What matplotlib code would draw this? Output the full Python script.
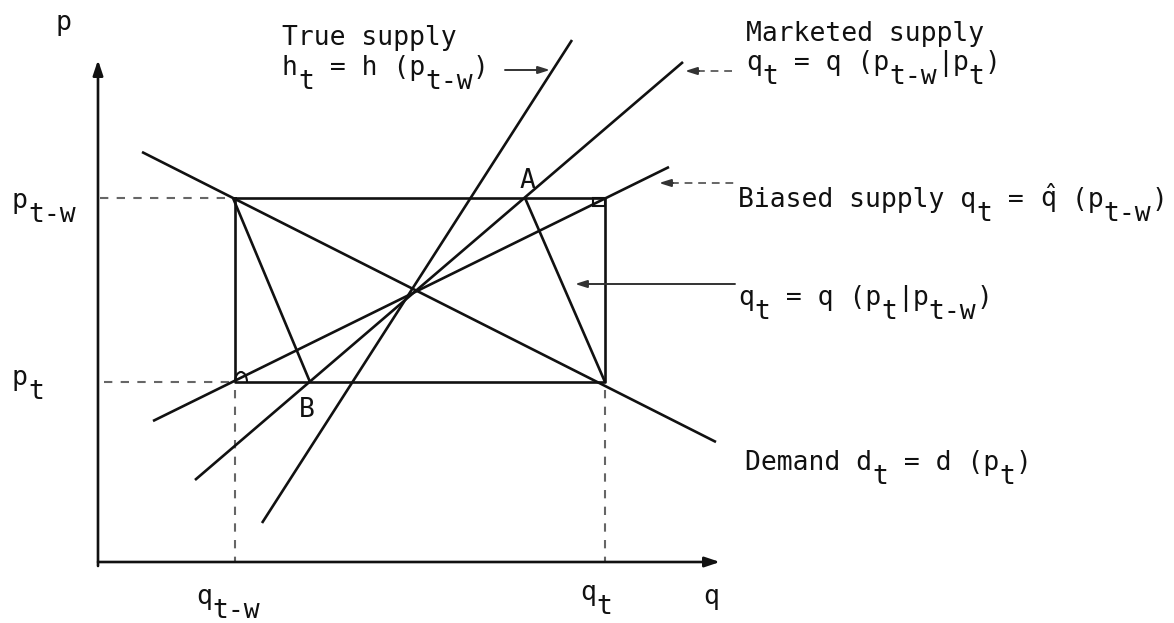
import matplotlib
matplotlib.use("Agg")
import matplotlib.pyplot as plt
from matplotlib.patches import Arc, Rectangle

plt.rcParams["mathtext.fontset"] = "custom"
plt.rcParams["mathtext.rm"] = "DejaVu Sans Mono"
plt.rcParams["mathtext.it"] = "DejaVu Sans Mono"

# ---- diagram data (diagram coordinates, y grows downward) ----
q_positions = {"q_tw": 235, "q_t": 605}
p_positions = {"p_tw": 198, "p_t": 382}

demand_x = [142, 716]
demand_y = [152, 442]
true_supply_x = [262, 572]
true_supply_y = [523, 40]
marketed_x = [195, 683]
marketed_y = [480, 62]
biased_x = [153, 669]
biased_y = [421, 167]
cond_left_x = [233, 310]      # corner -> B
cond_left_y = [198, 382]
cond_right_x = [525, 605]     # A -> corner
cond_right_y = [198, 382]

axis_origin = (98, 564)
y_axis_top = 60
x_axis_right = 720

FS = 19
FONT = "DejaVu Sans Mono"
CW = 0.602 * FS * 100 / 72   # monospace advance in px
SUB = 14                      # subscript drop in px

fig = plt.figure(figsize=(11.74, 6.23), dpi=100)
ax = fig.add_axes([0, 0, 1, 1])
ax.set_xlim(0, 1174)
ax.set_ylim(623, 0)
ax.axis("off")

LW = 1.9
K = "#111111"
G = "#666666"

# axes with arrows
ax.annotate("", xy=(axis_origin[0], y_axis_top), xytext=(axis_origin[0], axis_origin[1] + 2),
            arrowprops=dict(arrowstyle="-|>,head_length=0.9,head_width=0.3", lw=LW, color=K, shrinkA=0, shrinkB=0))
ax.annotate("", xy=(x_axis_right, axis_origin[1] - 2), xytext=(axis_origin[0], axis_origin[1] - 2),
            arrowprops=dict(arrowstyle="-|>,head_length=0.9,head_width=0.3", lw=LW, color=K, shrinkA=0, shrinkB=0))

x0 = axis_origin[0]
yb = axis_origin[1] - 2
qtw, qt = q_positions["q_tw"], q_positions["q_t"]
ptw, pt = p_positions["p_tw"], p_positions["p_t"]

# dashed guides
dash = dict(color=G, lw=1.5, ls=(0, (4, 4)))
ax.plot([x0 + 2, qtw - 2], [ptw, ptw], **dash)
ax.plot([x0 + 6, qtw - 2], [pt, pt], **dash)
ax.plot([qtw, qtw], [pt + 8, yb], **dash)
ax.plot([qt, qt], [pt + 8, yb], **dash)

# rectangle
ax.plot([qtw, qt, qt, qtw, qtw], [ptw, ptw, pt, pt, ptw], color=K, lw=LW)

# lines
for xs, ys in [(demand_x, demand_y), (true_supply_x, true_supply_y),
               (marketed_x, marketed_y), (biased_x, biased_y),
               (cond_left_x, cond_left_y), (cond_right_x, cond_right_y)]:
    ax.plot(xs, ys, color=K, lw=LW, solid_capstyle="butt")

# small marks
ax.add_patch(Rectangle((qt - 12, ptw), 12, 8, fill=False, ec=K, lw=1.5))
ax.add_patch(Arc((qtw + 6, pt), 12, 20, theta1=180, theta2=360, ec=K, lw=1.5))


def label(x, y, parts):
    cx = x
    for s, lvl in parts:
        ax.text(cx, y + lvl * SUB, s, family=FONT, size=FS, va="baseline", ha="left", color=K)
        cx += (1 if s.startswith("$") else len(s)) * CW


# point labels
ax.text(527, 188, "A", family=FONT, size=FS, ha="center", va="baseline", color=K)
ax.text(307, 417, "B", family=FONT, size=FS, ha="center", va="baseline", color=K)

# axis labels
label(55, 30, [("p", 0)])
label(12, 208, [("p", 0), ("t-w", 1)])
label(12, 385, [("p", 0), ("t", 1)])
label(196, 604, [("q", 0), ("t-w", 1)])
label(580, 600, [("q", 0), ("t", 1)])
label(703, 604, [("q", 0)])

# curve labels
label(282, 45, [("True supply", 0)])
label(282, 75, [("h", 0), ("t", 1), (" = h (p", 0), ("t-w", 1), (")", 0)])
label(746, 41, [("Marketed supply", 0)])
label(746, 70, [("q", 0), ("t", 1), (" = q (p", 0), ("t-w", 1), ("|p", 0), ("t", 1), (")", 0)])
label(738, 207, [("Biased supply q", 0), ("t", 1), (" = ", 0), (r"$\hat{\mathrm{q}}$", 0),
                 (" (p", 0), ("t-w", 1), (")", 0)])
label(738, 305, [("q", 0), ("t", 1), (" = q (p", 0), ("t", 1), ("|p", 0), ("t-w", 1), (")", 0)])
label(745, 470, [("Demand d", 0), ("t", 1), (" = d (p", 0), ("t", 1), (")", 0)])


def pointer(x_tail, x_tip, y, dashed):
    if dashed:
        ax.plot([x_tip + 12, x_tail], [y, y], color=G, lw=1.4, ls=(0, (4, 3)))
        ax.annotate("", xy=(x_tip, y), xytext=(x_tip + 14, y),
                    arrowprops=dict(arrowstyle="-|>,head_length=0.7,head_width=0.22", lw=1.4,
                                    color="#333333", shrinkA=0, shrinkB=0))
    else:
        ax.annotate("", xy=(x_tip, y), xytext=(x_tail, y),
                    arrowprops=dict(arrowstyle="-|>,head_length=0.7,head_width=0.22", lw=1.4,
                                    color="#333333", shrinkA=0, shrinkB=0))


pointer(505, 550, 70, False)
pointer(737, 685, 71, True)
pointer(737, 659, 183, True)
pointer(735, 575, 284, False)

fig.savefig("out.png", dpi=100)
